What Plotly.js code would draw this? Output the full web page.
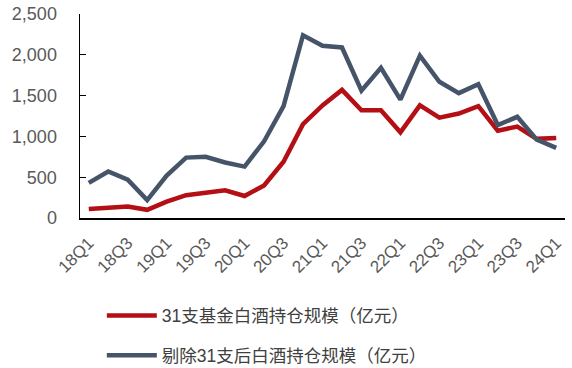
<!DOCTYPE html>
<html><head><meta charset="utf-8">
<script src="https://cdn.plot.ly/plotly-3.0.1.min.js"></script>
<style>html,body{margin:0;padding:0;background:#fff}#c{width:572px;height:368px}</style>
</head><body><div id="c"></div>
<script>
const quarters = ["18Q1","18Q2","18Q3","18Q4","19Q1","19Q2","19Q3","19Q4","20Q1","20Q2","20Q3","20Q4","21Q1","21Q2","21Q3","21Q4","22Q1","22Q2","22Q3","22Q4","23Q1","23Q2","23Q3","23Q4","24Q1"];
const tickLabels = ["18Q1","18Q3","19Q1","19Q3","20Q1","20Q3","21Q1","21Q3","22Q1","22Q3","23Q1","23Q3","24Q1"];
const fund31 = [110,130,140,100,200,280,310,340,270,400,690,1150,1380,1570,1320,1320,1050,1380,1230,1280,1370,1070,1120,970,980];
const others = [430,570,470,220,520,740,750,680,630,940,1370,2240,2110,2090,1560,1840,1450,1990,1670,1530,1640,1140,1240,960,860];
const name1 = "31支基金白酒持仓规模（亿元）";
const name2 = "剔除31支后白酒持仓规模（亿元）";

const traces = [
  {x: quarters, y: fund31, name: name1, type: "scatter", mode: "lines", legendgroup: "a",
   line: {color: "#B40F14", width: 4.5}},
  {x: quarters, y: others, name: name2, type: "scatter", mode: "lines", legendgroup: "b",
   line: {color: "#46546A", width: 4.5}}
];
const layout = {
  width: 572, height: 368,
  margin: {l: 80, r: 7, t: 14, b: 150, autoexpand: false},
  paper_bgcolor: "#fff", plot_bgcolor: "#fff",
  font: {family: "Liberation Sans, Arial, Noto Sans CJK SC, sans-serif", color: "#595959"},
  showlegend: true,
  legend: {x: 0.045, y: -0.39, xanchor: "left", yanchor: "top", orientation: "v",
    traceorder: "grouped", tracegroupgap: 14, itemwidth: 50,
    font: {size: 17.5, color: "#404040", family: "Liberation Sans, Noto Sans CJK SC, sans-serif"}},
  xaxis: {type: "category", tickvals: tickLabels, ticktext: tickLabels, tickangle: -45,
    showgrid: false, showline: true, linecolor: "#000", linewidth: 1.5, ticks: "",
    ticklabelstandoff: 7,
    tickfont: {size: 17, color: "#595959"}, range: [-0.45, 24.45], zeroline: false, automargin: false},
  yaxis: {range: [0, 2500], tickvals: [0,500,1000,1500,2000,2500], tickformat: ",d",
    showgrid: false, showline: true, linecolor: "#000", linewidth: 1.5,
    ticks: "inside", ticklen: 6, tickcolor: "#000", zeroline: false, automargin: false,
    ticklabelstandoff: 18,
    tickfont: {size: 18, color: "#595959"}}
};
Plotly.newPlot("c", traces, layout, {displayModeBar: false, staticPlot: true});
</script></body></html>
